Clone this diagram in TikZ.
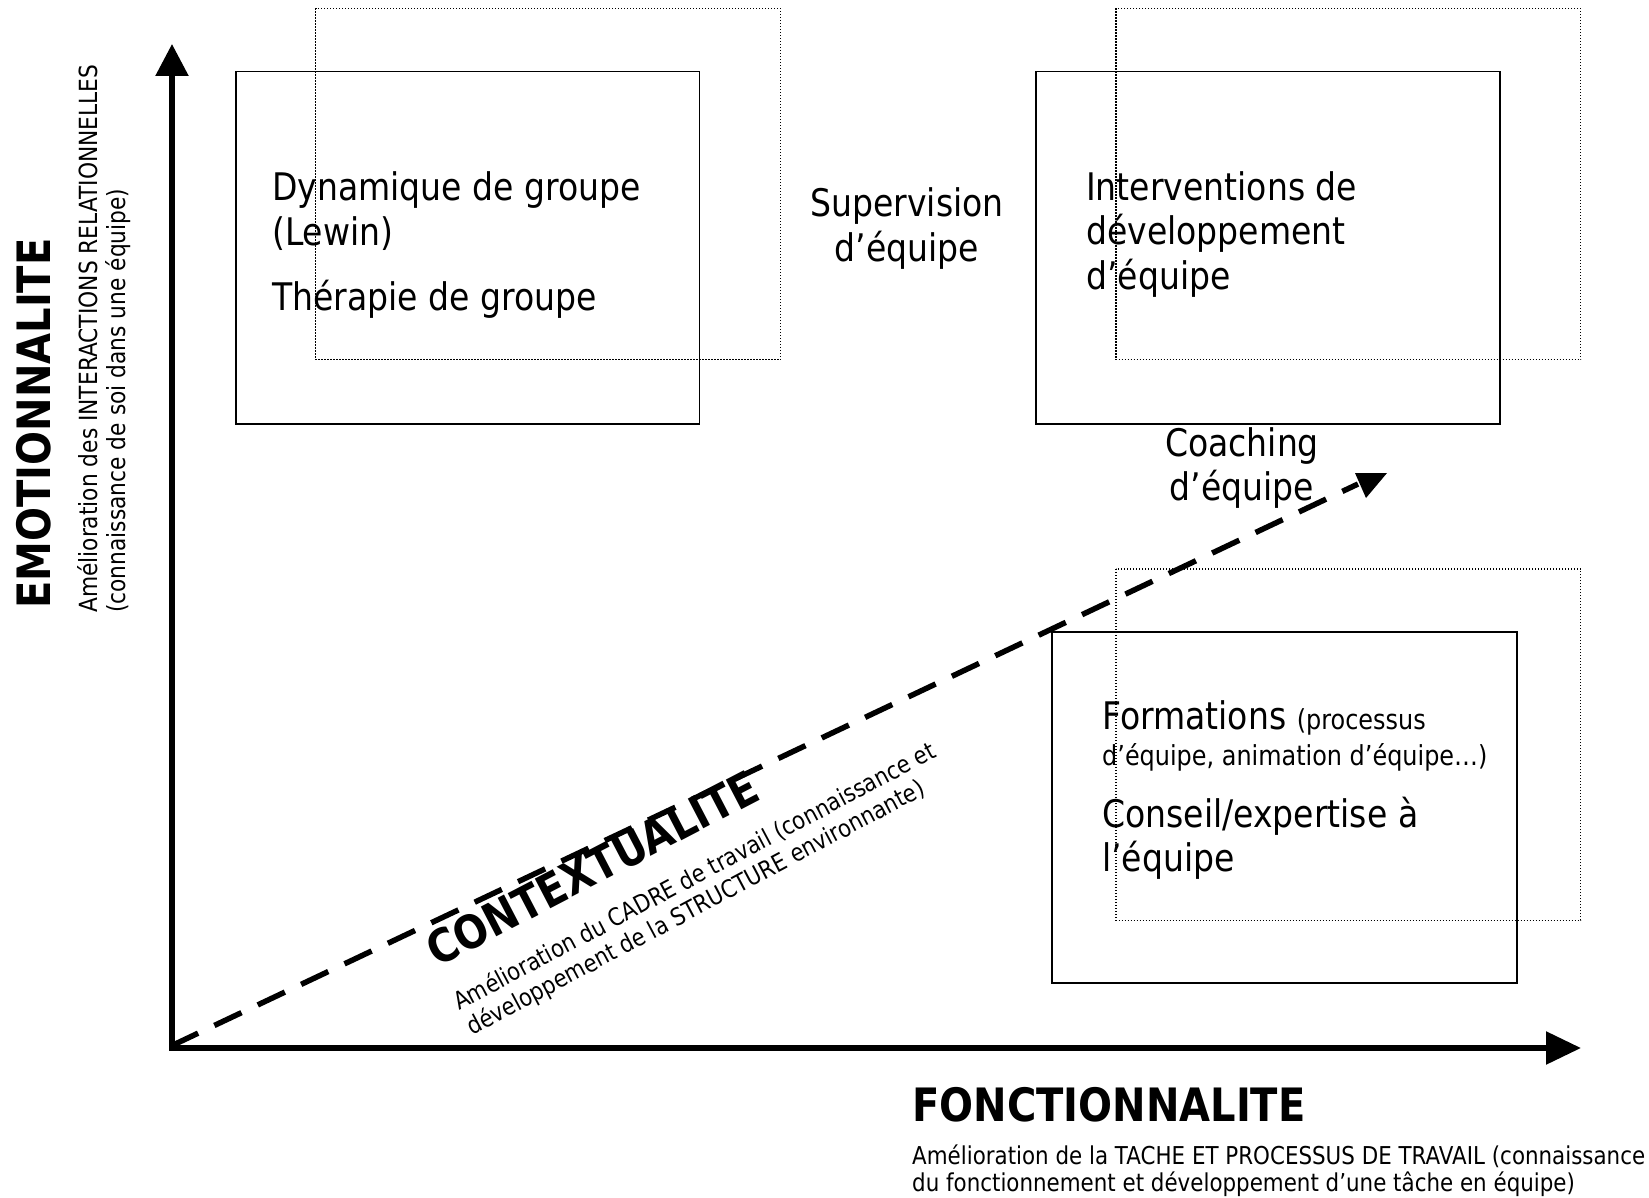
\documentclass[tikz,border=0pt]{standalone}
\usepackage{fontspec}
\setmainfont{DejaVu Sans}[FakeStretch=0.87]
\usetikzlibrary{arrows.meta}
\begin{document}
\begin{tikzpicture}[x=1pt,y=-1pt,
  solidbox/.style={draw,line width=1.8pt},
  dotbox/.style={draw,line width=1.3pt,dash pattern=on 1.3pt off 1.7pt},
  bigtxt/.style={font=\fontsize{38}{44}\selectfont,inner sep=0pt,anchor=base west},
  bigctr/.style={font=\fontsize{38}{44}\selectfont,inner sep=0pt,anchor=base},
  midtxt/.style={font=\fontsize{27.5}{32}\selectfont,inner sep=0pt,anchor=base west},
  smalltxt/.style={font=\fontsize{25}{28}\selectfont,inner sep=0pt,anchor=base west},
  titletxt/.style={font=\fontsize{46}{50}\selectfont\bfseries,inner sep=0pt,anchor=base west},
  axis/.style={line width=5.5pt},
  dashline/.style={line width=5.5pt,dash pattern=on 30pt off 18pt}
]
\useasboundingbox (0,0) rectangle (1649,1198);

% boxes
\draw[dotbox] (315.5,8.4) rectangle (780.4,359.7);
\draw[solidbox] (235.6,71.5) rectangle (699.4,423.8);
\draw[dotbox] (1115.9,8.4) rectangle (1580.7,359.7);
\draw[solidbox] (1035.9,71.5) rectangle (1499.7,423.8);
\draw[dotbox] (1115.9,569) rectangle (1580.7,920.2);
\draw[solidbox] (1051.7,632.1) rectangle (1516.6,983.3);

% axes
\coordinate (ybase) at (172,1050.75);
\coordinate (ytip) at (172,44);
\coordinate (xbase) at (169.25,1048);
\coordinate (xtip) at (1581,1048);
\draw[axis,-{Triangle[length=32pt,width=32pt]}] (ybase) -- (ytip);
\draw[axis,-{Triangle[length=35pt,width=32pt]}] (xbase) -- (xtip);

% dashed diagonal
\coordinate (dstart) at (171,1046);
\coordinate (dend) at (1358,484);
\draw[dashline] (dstart) -- (dend);
\fill (1355,473) -- (1387,473) -- (1366,498) -- cycle;

% box texts
\node[bigtxt] (t1) at (272,201) {Dynamique de groupe};
\node[bigtxt] (t2) at (272,246) {(Lewin)};
\node[bigtxt] (t3) at (272,310) {Thérapie de groupe};

\node[bigctr] (s1) at (907,217) {Supervision};
\node[bigctr] (s2) at (907,262) {d’équipe};

\node[bigtxt] (i1) at (1086,201) {Interventions de};
\node[bigtxt] (i2) at (1086,245) {développement};
\node[bigtxt] (i3) at (1086,290) {d’équipe};

\node[bigctr] (c1) at (1242,456) {Coaching};
\node[bigctr] (c2) at (1242,500) {d’équipe};

\node[bigtxt] (f1) at (1102,729) {Formations {\fontsize{27.5}{32}\selectfont (processus}};
\node[midtxt] (f2) at (1102,765) {d’équipe, animation d’équipe…)};
\node[bigtxt] (f3) at (1102,827) {Conseil/expertise à};
\node[bigtxt] (f4) at (1102,871) {l’équipe};

% axis titles
\node[titletxt,rotate=90] (emo) at (50,609) {EMOTIONNALITE};
\node[smalltxt,rotate=90] (emo1) at (97,613) {Amélioration des INTERACTIONS RELATIONNELLES};
\node[smalltxt,rotate=90] (emo2) at (125,613) {(connaissance de soi dans une équipe)};

\node[titletxt] (fonc) at (912,1121) {FONCTIONNALITE};
\node[smalltxt,font=\fontsize{24.6}{28}\selectfont] (fonc1) at (912,1164) {Amélioration de la TACHE ET PROCESSUS DE TRAVAIL (connaissance};
\node[smalltxt,font=\fontsize{24.6}{28}\selectfont] (fonc2) at (912,1191) {du fonctionnement et développement d’une tâche en équipe)};

\node[titletxt,rotate=27.5] (ctx) at (437,968) {CONTEXTUALITE};
\node[smalltxt,font=\fontsize{24.3}{28}\selectfont,rotate=28] (ctx1) at (459,1011) {Amélioration du CADRE de travail (connaissance et};
\node[smalltxt,font=\fontsize{24.3}{28}\selectfont,rotate=28] (ctx2) at (472.1,1035.7) {développement de la STRUCTURE environnante)};
\end{tikzpicture}
\end{document}
